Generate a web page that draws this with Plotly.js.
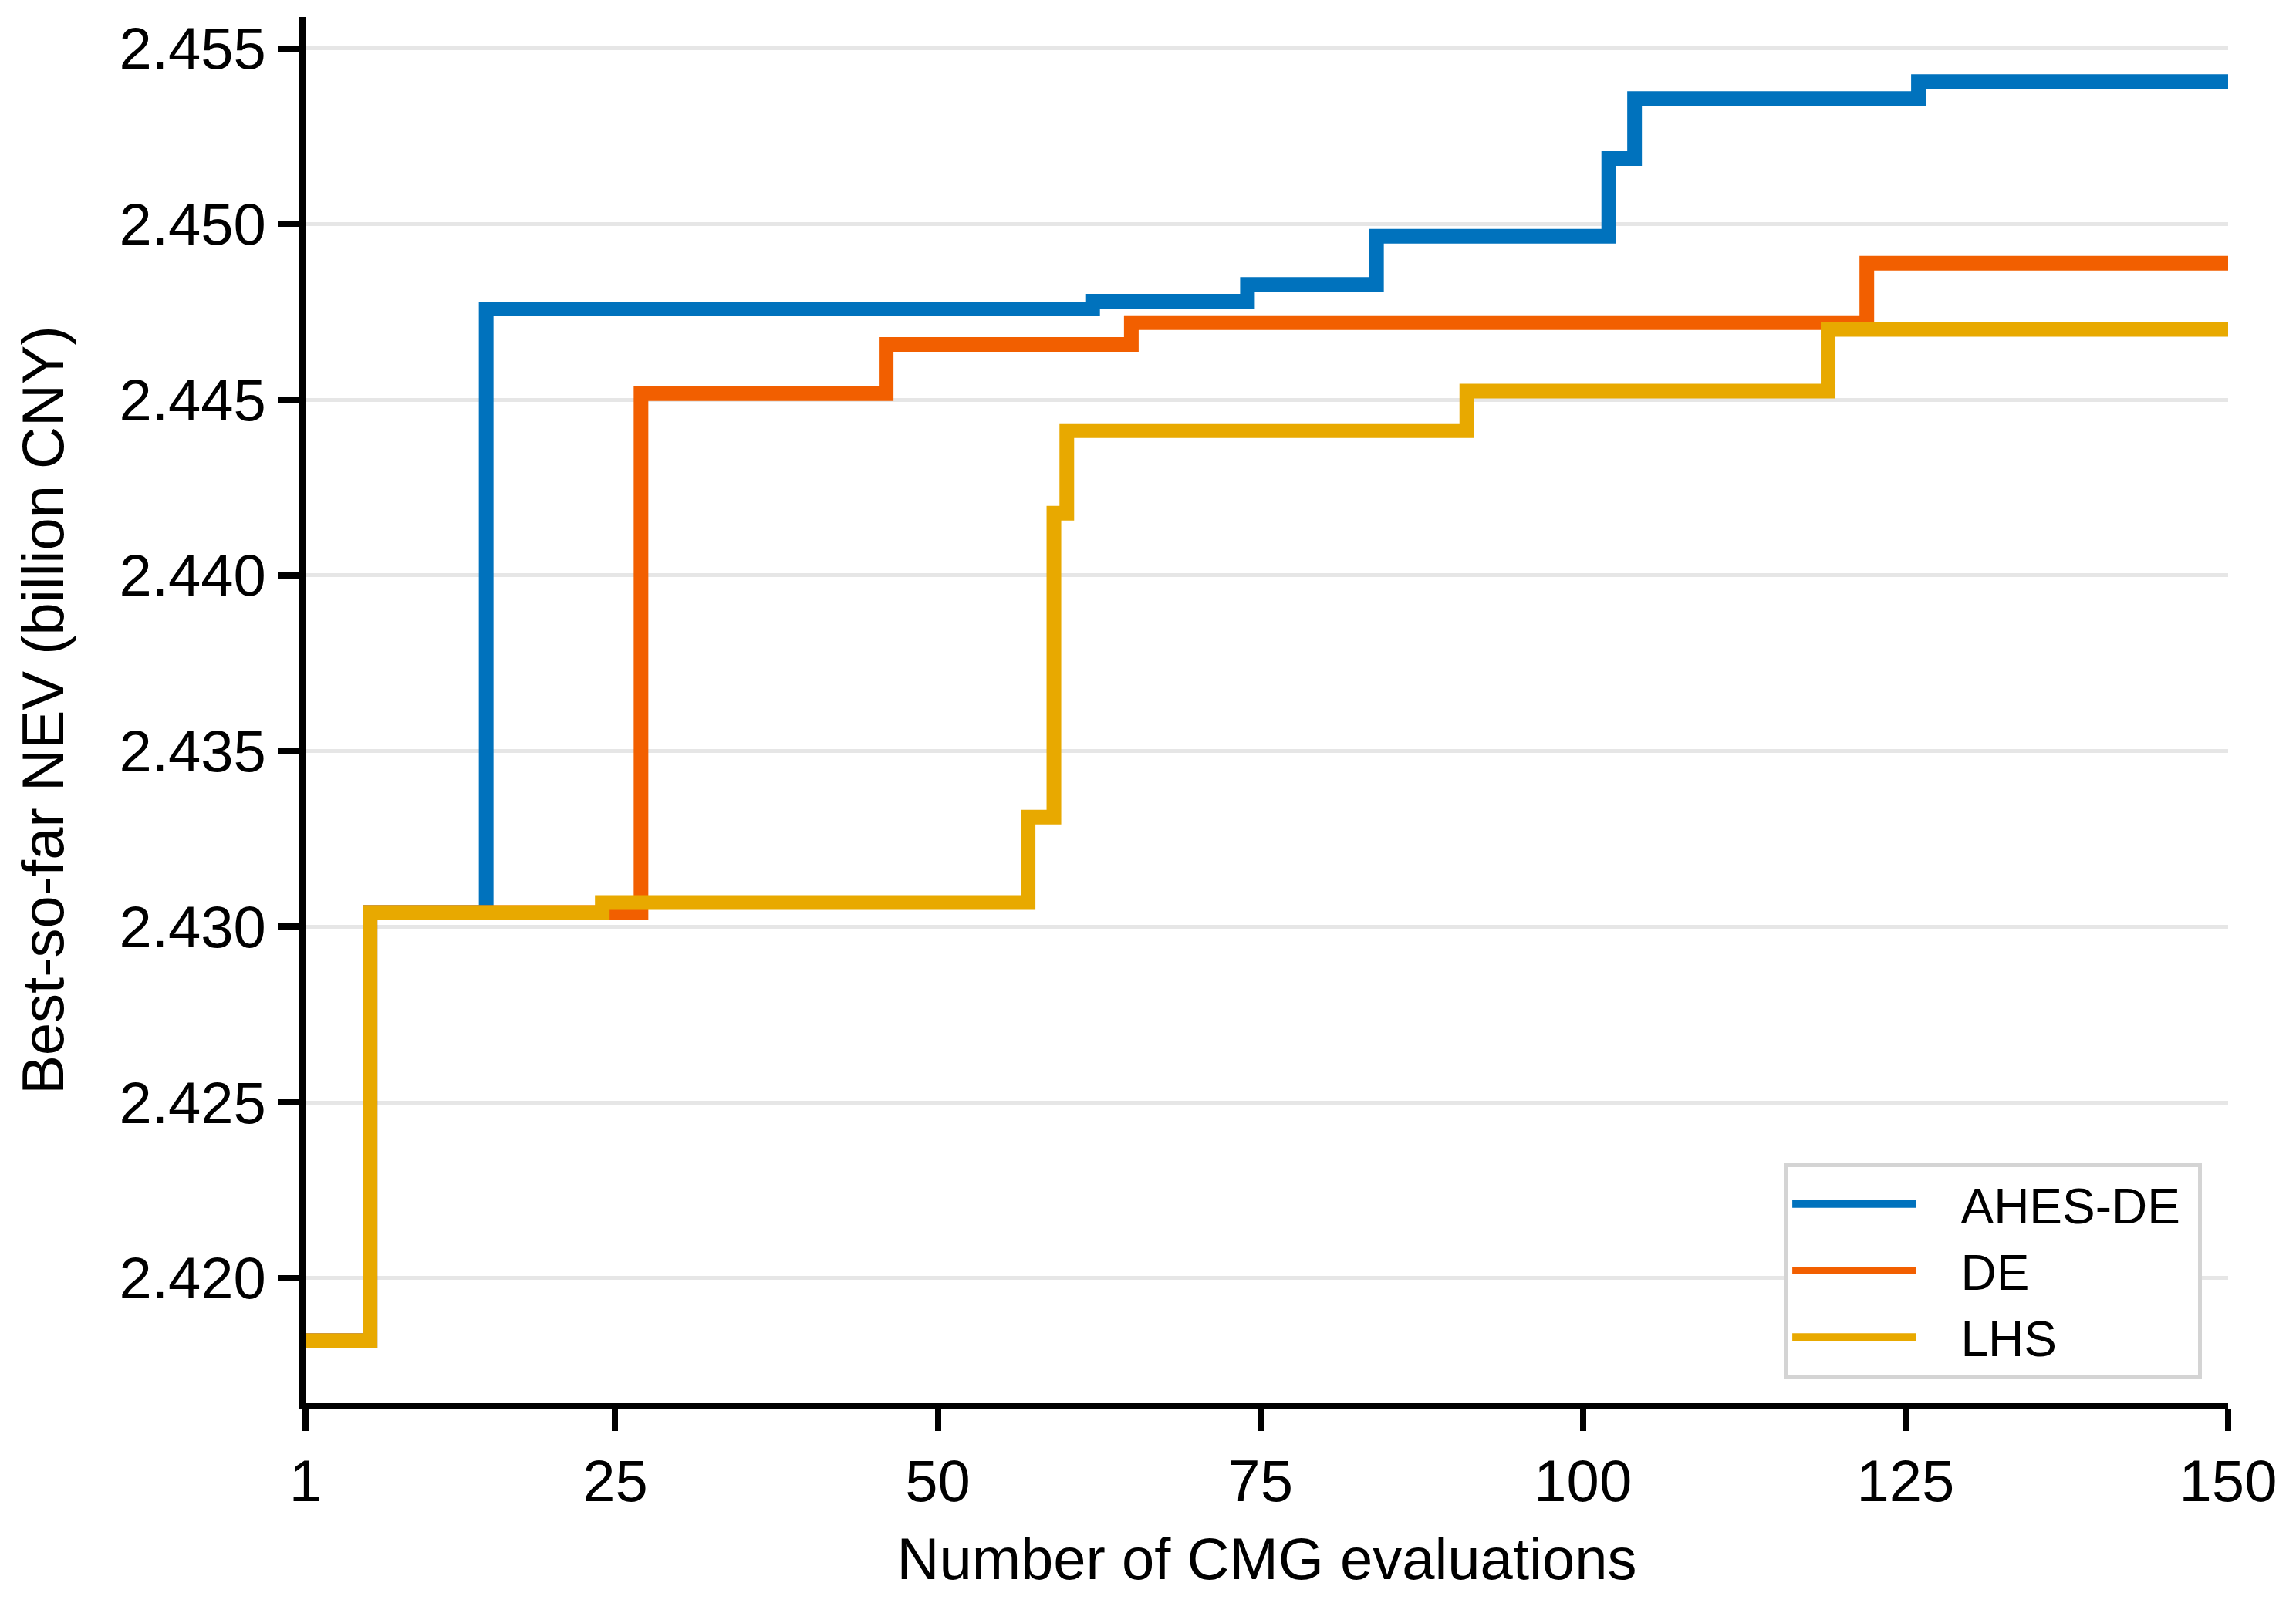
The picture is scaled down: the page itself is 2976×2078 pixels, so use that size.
<!DOCTYPE html>
<html>
<head>
<meta charset="utf-8">
<script src="https://cdn.plot.ly/plotly-3.0.1.min.js"></script>
<style>html,body{margin:0;padding:0;background:#fff;}#chart{width:2976px;height:2078px;}</style>
</head>
<body>
<div id="chart"></div>
<script>
// Step change points (x = evaluation index, y = best-so-far NEV, billion CNY)
const ahesX = [1, 6, 15, 62, 74, 84, 102, 104, 126, 150];
const ahesY = [2.41822, 2.4304, 2.44758, 2.44780, 2.44828, 2.44965, 2.45186, 2.45357, 2.45405, 2.45405];

const deX = [1, 6, 27, 46, 65, 122, 150];
const deY = [2.41822, 2.4304, 2.44517, 2.44657, 2.44719, 2.44888, 2.44888];

const lhsX = [1, 6, 24, 57, 59, 60, 91, 119, 150];
const lhsY = [2.41822, 2.4304, 2.43069, 2.43312, 2.44177, 2.44412, 2.44524, 2.44700, 2.44700];

const seriesNames = ['AHES-DE', 'DE', 'LHS'];
const seriesColors = ['#0072BD', '#F25F00', '#E8A900'];

const xTicks = [1, 25, 50, 75, 100, 125, 150];
const yTicks = [2.420, 2.425, 2.430, 2.435, 2.440, 2.445, 2.450, 2.455];

const font = 'Liberation Sans, Arial, sans-serif';
const NB = '\u00A0';

const traces = [[ahesX, ahesY], [deX, deY], [lhsX, lhsY]].map((d, i) => ({
  x: d[0], y: d[1], type: 'scatter', mode: 'lines',
  name: NB + NB + NB + seriesNames[i] + NB,
  line: {shape: 'hv', color: seriesColors[i], width: 19}
}));

const layout = {
  width: 2976, height: 2078,
  margin: {l: 396, r: 88, t: 22, b: 259},
  paper_bgcolor: '#ffffff', plot_bgcolor: '#ffffff',
  font: {family: font, size: 76, color: '#000'},
  showlegend: true,
  legend: {
    x: 0.9864, y: 0.018, xanchor: 'right', yanchor: 'bottom',
    bgcolor: '#ffffff', bordercolor: '#d4d4d4', borderwidth: 5,
    font: {family: font, size: 64, color: '#000'},
    itemwidth: 160, tracegroupgap: 0
  },
  xaxis: {
    range: [1, 150], tickvals: xTicks, ticktext: xTicks.map(String),
    showgrid: false, zeroline: false,
    showline: true, linecolor: '#000', linewidth: 8,
    ticks: 'outside', ticklen: 28, tickwidth: 8, tickcolor: '#000',
    tickfont: {family: font, size: 76},
    title: {text: 'Number of CMG evaluations', font: {family: font, size: 76}, standoff: 36}
  },
  yaxis: {
    range: [2.41644, 2.45589], tickvals: yTicks, ticktext: yTicks.map(v => v.toFixed(3)),
    showgrid: true, gridcolor: '#e6e6e6', gridwidth: 5, zeroline: false,
    showline: true, linecolor: '#000', linewidth: 8,
    ticks: 'outside', ticklen: 28, tickwidth: 8, tickcolor: '#000',
    tickfont: {family: font, size: 76},
    title: {text: 'Best-so-far NEV (billion CNY)', font: {family: font, size: 76}, standoff: 50}
  }
};

Plotly.newPlot('chart', traces, layout, {staticPlot: true, displayModeBar: false});
</script>
</body>
</html>
